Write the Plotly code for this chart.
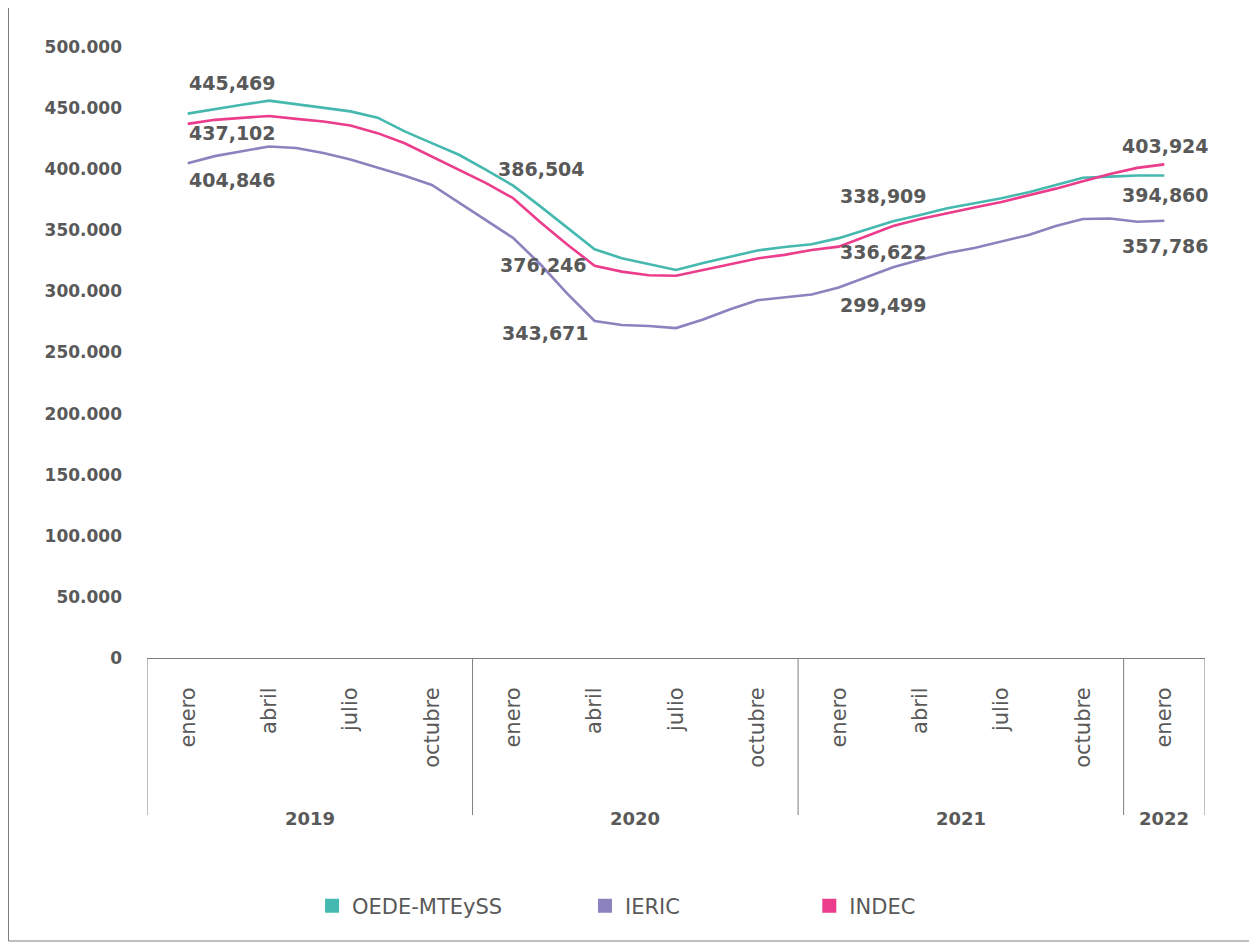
import plotly.graph_objects as go

# --- datos ---
meses = ["enero", "febrero", "marzo", "abril", "mayo", "junio", "julio",
         "agosto", "septiembre", "octubre", "noviembre", "diciembre"]
anios = ["2019", "2020", "2021", "2022"]
periodos = [(a, m) for a in anios[:3] for m in meses] + [("2022", "enero")]

oede = [445469, 449300, 452700, 456100, 453000, 450200, 447300, 442200, 430900,
        421300, 411800, 399400, 386504, 369600, 351900, 334400, 327200, 322600,
        317500, 323200, 328400, 333500, 336300, 338600, 343600, 350300, 357400,
        362600, 368000, 372200, 376300, 381200, 387200, 393000, 393900, 394900,
        394860]
ieric = [404846, 410700, 414700, 418600, 417300, 413300, 407900, 401600, 394700,
         387100, 372600, 357900, 343671, 322200, 297900, 275800, 272500, 271700,
         270000, 277000, 285400, 292800, 295100, 297500, 303200, 311700, 319800,
         325800, 331500, 335500, 340700, 346200, 353600, 359200, 359700, 357000,
         357786]
indec = [437102, 440400, 442000, 443500, 441200, 439000, 435700, 429500, 421200,
         410200, 399500, 388600, 376246, 356600, 338200, 321000, 316200, 313200,
         312800, 317500, 322400, 327000, 329900, 333900, 336622, 344900, 353500,
         359300, 364200, 368600, 373200, 378500, 384100, 390200, 396000, 401100,
         403924]

# etiquetas de datos que aparecen en el gráfico (índice del mes, texto)
etiquetas_oede = [(0, "445,469"), (12, "386,504"), (24, "338,909"), (36, "394,860")]
etiquetas_indec = [(0, "437,102"), (12, "376,246"), (24, "336,622"), (36, "403,924")]
etiquetas_ieric = [(0, "404,846"), (12, "343,671"), (24, "299,499"), (36, "357,786")]

TEAL = "#45B8AF"
LILA = "#8C82BE"
ROSA = "#EC3C8C"
GRIS = "#595959"
LINEA = "#7F7F7F"
FUENTE = "DejaVu Sans"

x = list(range(len(periodos)))

fig = go.Figure()
series = [("OEDE-MTEySS", oede, TEAL, "legend"),
          ("IERIC", ieric, LILA, "legend2"),
          ("INDEC", indec, ROSA, "legend3")]
for nombre, valores, color, leyenda in series:
    fig.add_trace(go.Scatter(x=x, y=valores, mode="lines", name=nombre,
                             line=dict(color=color, width=2.6),
                             showlegend=False))
    # entrada de leyenda con marcador cuadrado
    fig.add_trace(go.Scatter(x=[None], y=[None], mode="markers", name=nombre,
                             marker=dict(symbol="square", size=14, color=color),
                             legend=leyenda))

# etiquetas de datos
desplazamientos = {
    "oede": [(45, 31), (28, 17), (45, 42), (1, -20)],
    "indec": [(45, -9), (30, -67), (45, -5), (1, 18)],
    "ieric": [(45, -17), (32, -95), (45, -18), (1, -25)],
}
for clave, valores, etiquetas in [("oede", oede, etiquetas_oede),
                                  ("indec", indec, etiquetas_indec),
                                  ("ieric", ieric, etiquetas_ieric)]:
    for (i, txt), (dx, dy) in zip(etiquetas, desplazamientos[clave]):
        fig.add_annotation(x=i, y=valores[i], xref="x", yref="y", text=txt,
                           showarrow=False, xshift=dx, yshift=dy,
                           font=dict(family=FUENTE, size=19, color=GRIS, weight="bold"))

# eje x: meses cada tres, años debajo con divisiones
ticks = [i for i, (a, m) in enumerate(periodos) if m in ("enero", "abril", "julio", "octubre")]
ticktext = [periodos[i][1] for i in ticks]

y_div = -0.257
inicio_anio = {}
for i, (a, m) in enumerate(periodos):
    inicio_anio.setdefault(a, i)
bordes = [inicio_anio[a] - 1.5 for a in anios] + [len(periodos) + 0.5]
for b in bordes:
    fig.add_shape(type="line", xref="x", yref="paper", x0=b, x1=b, y0=0, y1=y_div,
                  line=dict(color=LINEA, width=1))
for a, b0, b1 in zip(anios, bordes[:-1], bordes[1:]):
    fig.add_annotation(x=(b0 + b1) / 2, y=-0.2635, xref="x", yref="paper", text=a,
                       showarrow=False, yanchor="middle",
                       font=dict(family=FUENTE, size=18, color=GRIS, weight="bold"))

# marco exterior
fig.add_shape(type="rect", xref="paper", yref="paper", x0=-0.1309, x1=1.06,
              y0=-0.4632, y1=1.1, line=dict(color=LINEA, width=1), layer="below")

leg = dict(orientation="h", yanchor="middle", y=-0.406, xanchor="left",
           font=dict(family=FUENTE, size=21, color=GRIS), bgcolor="rgba(0,0,0,0)")

fig.update_layout(
    width=1249, height=937,
    margin=dict(l=139, r=52, t=39, b=287),
    paper_bgcolor="white", plot_bgcolor="white",
    separators=",.",
    font=dict(family=FUENTE, color=GRIS),
    xaxis=dict(range=[bordes[0], bordes[-1]], tickmode="array", tickvals=ticks,
               ticktext=ticktext, tickangle=-90, showgrid=False, zeroline=False,
               showline=True, linecolor=LINEA, linewidth=1, ticks="",
               ticklabelstandoff=20,
               tickfont=dict(family=FUENTE, size=21, color=GRIS)),
    yaxis=dict(range=[0, 500000], tickmode="linear", tick0=0, dtick=50000,
               tickformat=",.0f", showgrid=False, zeroline=False, showline=False,
               ticks="", ticklabelstandoff=24,
               tickfont=dict(family=FUENTE, size=17, color=GRIS, weight="bold")),
    legend=dict(leg, x=0.156),
    legend2=dict(leg, x=0.414),
    legend3=dict(leg, x=0.626),
)

fig.write_html("out.html")
